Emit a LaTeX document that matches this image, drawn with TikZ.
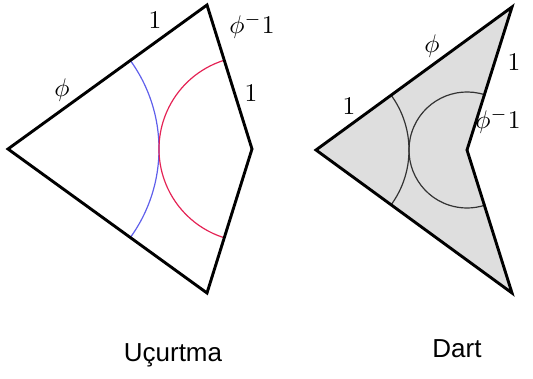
\documentclass[tikz,border=0pt]{standalone}
\usepackage{fontspec}
\newfontfamily\captionfont{Liberation Sans}
\usetikzlibrary{positioning}

\definecolor{arcblue}{RGB}{95,95,235}
\definecolor{arcred}{RGB}{228,35,85}
\definecolor{dartfill}{RGB}{222,222,222}

\begin{document}
\begin{tikzpicture}[
    x=1pt, y=1pt,
    edge/.style={draw=black, line width=2.9pt, line join=miter},
    arcline/.style={line width=1.2pt},
    len/.style={scale=2.55, inner sep=0pt},
    caption/.style={font=\captionfont\fontsize{26}{30}\selectfont, inner sep=0pt, anchor=base}
]
\useasboundingbox (0,0) rectangle (533,378);

% ===== KITE (UCURTMA) =====
\coordinate (kl) at (8,229);
\coordinate (kt) at (207,373);
\coordinate (kr) at (252,229);
\coordinate (kb) at (207,85);

\draw[arcline, arcblue] ([shift={(-36:151)}]kl) arc[start angle=-36, end angle=36, radius=151];
\draw[arcline, arcred] ([shift={(108:93)}]kr) arc[start angle=108, end angle=252, radius=93];
\draw[edge] (kl) -- (kt) -- (kr) -- (kb) -- cycle;

\node[len] (kphi) at (62,288) {$\phi$};
\node[len] (kone) at (155,358) {$1$};
\node[len] (kinv) at (252,352) {$\phi^{-}1$};
\node[len] (ktwo) at (251,285) {$1$};

% ===== DART =====
\coordinate (dl) at (316,228);
\coordinate (dt) at (512,371);
\coordinate (di) at (467,228);
\coordinate (db) at (512,85);

\fill[dartfill] (dl) -- (dt) -- (di) -- (db) -- cycle;
\draw[arcline, black!80] ([shift={(-36:93)}]dl) arc[start angle=-36, end angle=36, radius=93];
\draw[arcline, black!80] ([shift={(72:58)}]di) arc[start angle=72, end angle=288, radius=58];
\draw[edge] (dl) -- (dt) -- (di) -- (db) -- cycle;

\node[len] (dphi) at (432,332) {$\phi$};
\node[len] (done) at (514,316) {$1$};
\node[len] (dtwo) at (349,272) {$1$};
\node[len] (dinv) at (498,257) {$\phi^{-}1$};

% ===== CAPTIONS =====
\node[caption] (kcap) at (173,17) {Uçurtma};
\node[caption] (dcap) at (457,21) {Dart};

\end{tikzpicture}
\end{document}
